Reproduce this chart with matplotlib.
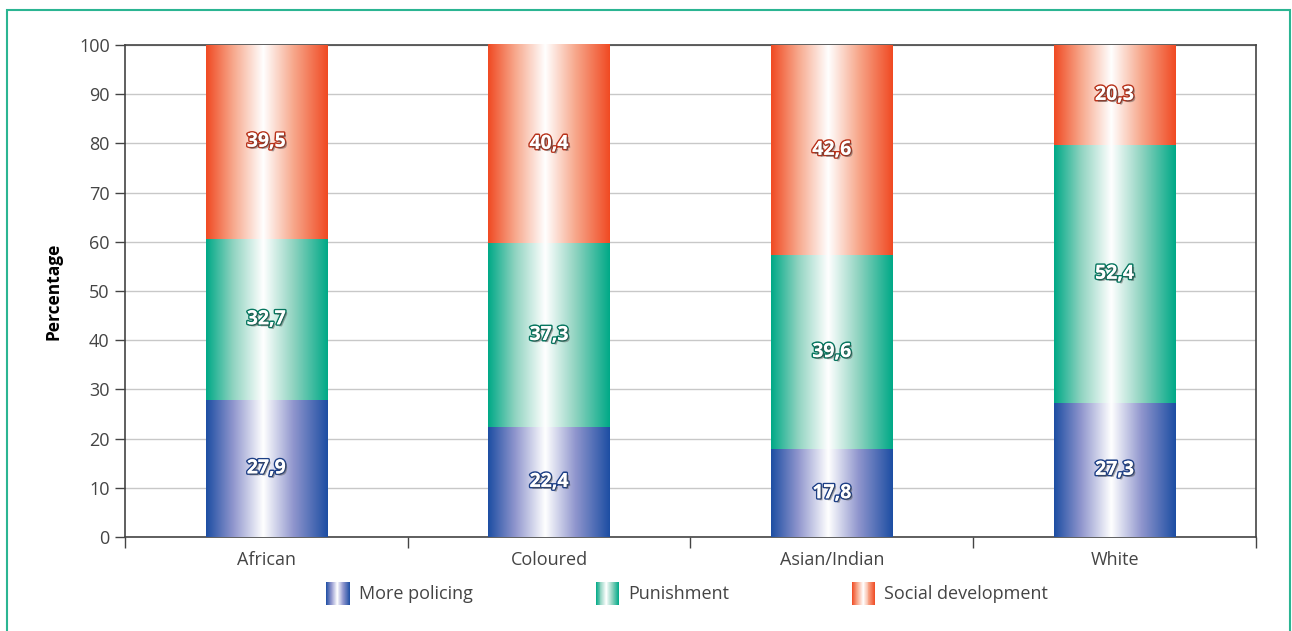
import numpy as np
import matplotlib
matplotlib.use("Agg")
import matplotlib.pyplot as plt
from matplotlib.colors import LinearSegmentedColormap
from matplotlib.patches import Rectangle
from matplotlib.legend_handler import HandlerPatch
import matplotlib.patheffects as pe

plt.rcParams['font.family'] = ['Open Sans', 'DejaVu Sans']

# survey shares per population group (percent)
groups = ['African', 'Coloured', 'Asian/Indian', 'White']
policing = [27.9, 22.4, 17.8, 27.3]
punishment = [32.7, 37.3, 39.6, 52.4]
social_dev = [39.5, 40.4, 42.6, 20.3]
series_names = ['More policing', 'Punishment', 'Social development']

# edge colour, mid tone, outline colour for the labels
styles = [
    ('#1d4ea3', '#8f95cd', '#1d3f86'),
    ('#00a987', '#8fd3c0', '#06765f'),
    ('#f04a23', '#f7a78b', '#b8321a'),
]


def make_cmap(edge, mid):
    return LinearSegmentedColormap.from_list(
        'g', [(0, edge), (0.22, mid), (0.47, '#ffffff'), (0.72, mid), (1, edge)])


cmaps = [make_cmap(s[0], s[1]) for s in styles]
grad = np.linspace(0, 1, 256).reshape(1, -1)


class GradientHandler(HandlerPatch):
    def __init__(self, cmap):
        super().__init__()
        self.cmap = cmap

    def create_artists(self, legend, orig_handle, xdescent, ydescent,
                       width, height, fontsize, trans):
        n = 24
        w = width / n
        arts = []
        for i in range(n):
            r = Rectangle((-xdescent + i * w, -ydescent), w * 1.05, height,
                          facecolor=self.cmap((i + 0.5) / n), edgecolor='none',
                          transform=trans)
            arts.append(r)
        return arts


fig = plt.figure(figsize=(12.92, 6.31), dpi=100)
ax = fig.add_axes([0.0967, 0.149, 0.8754, 0.7797])

# teal frame around the figure
fig.patches.append(Rectangle((7 / 1292, -0.05), 1283 / 1292, 1.05 - 10 / 631,
                             transform=fig.transFigure, fill=False,
                             edgecolor='#2bb592', linewidth=1.5))

x = np.arange(len(groups))
width = 0.43
bottoms = np.zeros(len(groups))
handles = []
for k, vals in enumerate([policing, punishment, social_dev]):
    vals = np.array(vals)
    bars = ax.bar(x, vals, width, bottom=bottoms, facecolor='none',
                  edgecolor='none', zorder=3, label=series_names[k])
    for b in bars:
        bx, by = b.get_x(), b.get_y()
        top = min(by + b.get_height(), 100)
        im = ax.imshow(grad, cmap=cmaps[k], aspect='auto',
                       extent=(bx, bx + b.get_width(), by, top), zorder=3)
        im.set_clip_path(b)
    for xi, bi, v in zip(x, bottoms, vals):
        ax.text(xi, bi + v / 2, f'{v:.1f}'.replace('.', ','), ha='center',
                va='center', color='white', fontsize=14, fontweight='bold',
                zorder=5,
                path_effects=[pe.withStroke(linewidth=2.2, foreground=styles[k][2]),
                              pe.SimplePatchShadow(offset=(1.5, -1.5), alpha=0.45),
                              pe.Normal()])
    handles.append(bars[0])
    bottoms = bottoms + vals

ax.set_xlim(-0.5, len(groups) - 0.5)
ax.set_ylim(0, 100)
ax.set_yticks(np.arange(0, 101, 10))
ax.yaxis.grid(True, color='#c8c8c8', linewidth=1, zorder=0)
ax.set_axisbelow(True)
ax.set_xticks(x)
ax.set_xticklabels(groups)
ax.set_xticks(np.arange(-0.5, len(groups)), minor=True)
ax.tick_params(axis='x', which='major', length=0, pad=10, labelsize=13,
               labelcolor='#444444')
ax.tick_params(axis='x', which='minor', length=8, width=1, color='#444444')
ax.tick_params(axis='y', length=7, width=1, color='#444444', labelsize=13,
               labelcolor='#444444', pad=4)
for s in ax.spines.values():
    s.set_color('#444444')
    s.set_linewidth(1.2)
ax.set_ylabel('Percentage', fontsize=12.5, fontweight='bold', labelpad=12)

leg = fig.legend(handles, series_names, loc='center', bbox_to_anchor=(0.532, 0.06),
                 ncol=3, frameon=False, fontsize=13, columnspacing=6.8,
                 handlelength=1.3, handleheight=1.6, handletextpad=0.5,
                 handler_map={h: GradientHandler(c) for h, c in zip(handles, cmaps)})
for t in leg.get_texts():
    t.set_color('#444444')

fig.savefig('out.png', dpi=100)
